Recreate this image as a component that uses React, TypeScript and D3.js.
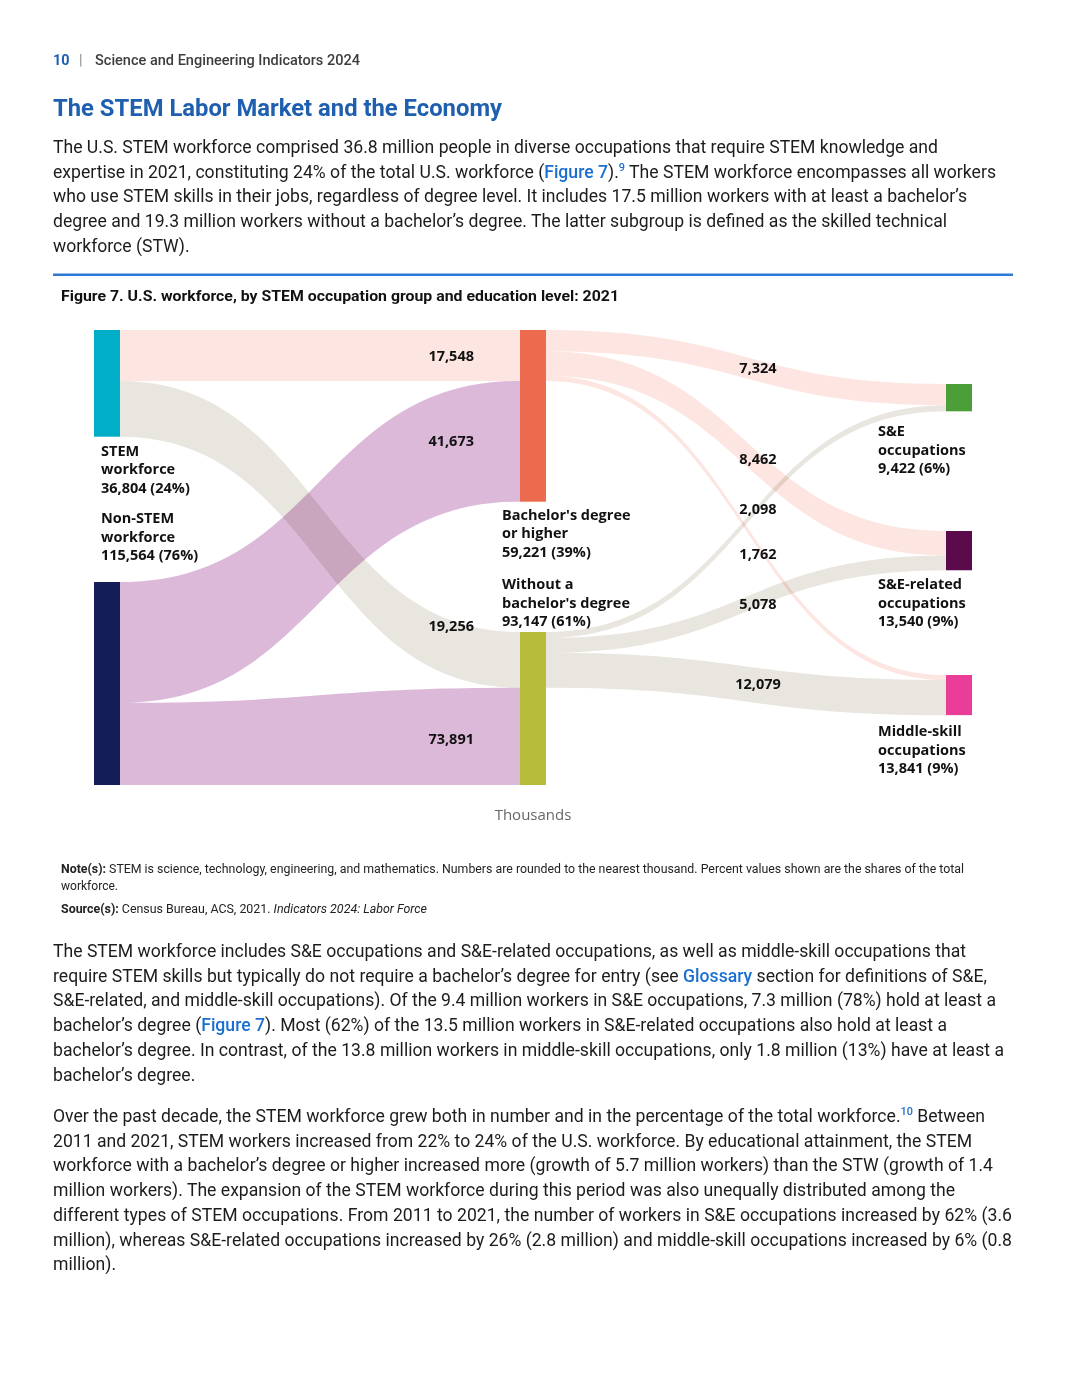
import React from "react";
import * as d3 from "d3";

// ---------------- DATA ----------------
const nodeNames = [
  "STEM workforce",
  "Non-STEM workforce",
  "Bachelor's degree or higher",
  "Without a bachelor's degree",
  "S&E occupations",
  "S&E-related occupations",
  "Middle-skill occupations",
];
const nodeLabelLines = [
  ["STEM", "workforce"],
  ["Non-STEM", "workforce"],
  ["Bachelor's degree", "or higher"],
  ["Without a", "bachelor's degree"],
  ["S&E", "occupations"],
  ["S&E-related", "occupations"],
  ["Middle-skill", "occupations"],
];
const nodeValues = [36804, 115564, 59221, 93147, 9422, 13540, 13841];
const nodeShares = ["24%", "76%", "39%", "61%", "6%", "9%", "9%"];
const nodeColumns = [0, 0, 1, 1, 2, 2, 2];

const linkSources = [0, 0, 1, 1, 2, 2, 2, 3, 3, 3];
const linkTargets = [2, 3, 2, 3, 4, 5, 6, 4, 5, 6];
const linkValues = [17548, 19256, 41673, 73891, 7324, 8462, 1762, 2098, 5078, 12079];

// ---------------- LAYOUT / STYLE ----------------
const W = 1080;
const H = 1397;
const CHART_BOTTOM = 785;
const NODE_W = 26;
const nodeTops = [330, 582, 330, 632, 384, 531, 675];
const nodeColors = ["#00aec7", "#131d58", "#ec6b4f", "#b7bd3b", "#4c9f38", "#5b0a4c", "#e93d98"];
const labelSpec = [
  { dx: 7, mode: "below", gap: 19 },
  { dx: 7, mode: "above", gap: 22 },
  { dx: -18, mode: "below", gap: 18 },
  { dx: -18, mode: "above", gap: 6 },
  { dx: -68, mode: "below", gap: 25 },
  { dx: -68, mode: "below", gap: 19 },
  { dx: -68, mode: "below", gap: 21 },
];
const linkLabelDy = [0, -34, 0, 2.5, 0, 6, 26, -12.7, 0, 0];
const LINE_H = 18.5;
const PINK = "#fde6e1";
const GRAY = "#e9e5df";
const LAV = "#dcb8d9";
const BLUE = "#1a6fcf";
const TEXT = "#1c1c1c";

const colX = d3.scaleLinear().domain([0, 2]).range([94, 946]);
const hScale = d3.scaleLinear().domain([0, 59221]).range([0, 171.7]);
const fmt = d3.format(",");

function linkColor(i: number) {
  const s = linkSources[i];
  const t = linkTargets[i];
  if (s === 1) return LAV;
  if (s === 2 || t === 2) return PINK;
  return GRAY;
}

function ribbon(x0: number, y0a: number, y0b: number, x1: number, y1a: number, y1b: number) {
  const xm = (x0 + x1) / 2;
  const p = d3.path();
  p.moveTo(x0, y0a);
  p.bezierCurveTo(xm, y0a, xm, y1a, x1, y1a);
  p.lineTo(x1, y1b);
  p.bezierCurveTo(xm, y1b, xm, y0b, x0, y0b);
  p.closePath();
  return p.toString();
}

// compute link geometry
const srcOffset = nodeValues.map(() => 0);
const tgtOffset = nodeValues.map(() => 0);
const links = linkValues.map((v, i) => {
  const s = linkSources[i];
  const t = linkTargets[i];
  const w = hScale(v);
  const y0 = nodeTops[s] + srcOffset[s];
  const y1 = nodeTops[t] + tgtOffset[t];
  srcOffset[s] += w;
  tgtOffset[t] += w;
  const x0 = colX(nodeColumns[s]) + NODE_W;
  const x1 = colX(nodeColumns[t]);
  return { i, v, s, t, w, x0, x1, y0, y1 };
});

// ---------------- BODY TEXT ----------------
type Seg = { t: string; k?: "link" | "sup" | "b" | "i" };
const para1: Seg[][] = [
  [{ t: "The U.S. STEM workforce comprised 36.8 million people in diverse occupations that require STEM knowledge and" }],
  [
    { t: "expertise in 2021, constituting 24% of the total U.S. workforce (" },
    { t: "Figure 7", k: "link" },
    { t: ")." },
    { t: "9", k: "sup" },
    { t: " The STEM workforce encompasses all workers" },
  ],
  [{ t: "who use STEM skills in their jobs, regardless of degree level. It includes 17.5 million workers with at least a bachelor\u2019s" }],
  [{ t: "degree and 19.3 million workers without a bachelor\u2019s degree. The latter subgroup is defined as the skilled technical" }],
  [{ t: "workforce (STW)." }],
];
const para1Ends = [938, 996, 967, 947, 0];
const para2: Seg[][] = [
  [{ t: "The STEM workforce includes S&E occupations and S&E-related occupations, as well as middle-skill occupations that" }],
  [
    { t: "require STEM skills but typically do not require a bachelor\u2019s degree for entry (see " },
    { t: "Glossary", k: "link" },
    { t: " section for definitions of S&E," },
  ],
  [{ t: "S&E-related, and middle-skill occupations). Of the 9.4 million workers in S&E occupations, 7.3 million (78%) hold at least a" }],
  [
    { t: "bachelor\u2019s degree (" },
    { t: "Figure 7", k: "link" },
    { t: "). Most (62%) of the 13.5 million workers in S&E-related occupations also hold at least a" },
  ],
  [{ t: "bachelor\u2019s degree. In contrast, of the 13.8 million workers in middle-skill occupations, only 1.8 million (13%) have at least a" }],
  [{ t: "bachelor\u2019s degree." }],
];
const para2Ends = [966, 987, 996, 947, 1004, 0];
const para3: Seg[][] = [
  [
    { t: "Over the past decade, the STEM workforce grew both in number and in the percentage of the total workforce." },
    { t: "10", k: "sup" },
    { t: " Between" },
  ],
  [{ t: "2011 and 2021, STEM workers increased from 22% to 24% of the U.S. workforce. By educational attainment, the STEM" }],
  [{ t: "workforce with a bachelor\u2019s degree or higher increased more (growth of 5.7 million workers) than the STW (growth of 1.4" }],
  [{ t: "million workers). The expansion of the STEM workforce during this period was also unequally distributed among the" }],
  [{ t: "different types of STEM occupations. From 2011 to 2021, the number of workers in S&E occupations increased by 62% (3.6" }],
  [{ t: "million), whereas S&E-related occupations increased by 26% (2.8 million) and middle-skill occupations increased by 6% (0.8" }],
  [{ t: "million)." }],
];
const para3Ends = [985, 972, 993, 955, 1012, 1012, 0];

const BODY_X = 53;
const BODY_LH = 24.7;

function renderSegs(segs: Seg[]) {
  return segs.map((s, j) => {
    if (s.k === "link")
      return (
        <tspan key={j} fill={BLUE} fontWeight={500}>
          {s.t}
        </tspan>
      );
    if (s.k === "sup")
      return (
        <tspan key={j} fill={BLUE} fontSize="0.62em" fontWeight={500} dy={-7}>
          {s.t}
        </tspan>
      );
    if (s.k === "b")
      return (
        <tspan key={j} fontWeight={700}>
          {s.t}
        </tspan>
      );
    if (s.k === "i")
      return (
        <tspan key={j} fontStyle="italic">
          {s.t}
        </tspan>
      );
    const prev = segs[j - 1];
    return (
      <tspan key={j} dy={prev && prev.k === "sup" ? 7 : undefined}>
        {s.t}
      </tspan>
    );
  });
}

function Paragraph({ lines, ends, y0 }: { lines: Seg[][]; ends: number[]; y0: number }) {
  return (
    <g fontFamily="Roboto, sans-serif" fontSize={17.6} fill={TEXT}>
      {lines.map((segs, i) => (
        <text
          key={i}
          x={BODY_X}
          y={y0 + i * BODY_LH}
          textLength={ends[i] ? ends[i] - BODY_X : undefined}
          lengthAdjust="spacing"
        >
          {renderSegs(segs)}
        </text>
      ))}
    </g>
  );
}

export default function App() {
  const visibleCenter = (y: number, w: number) => (y + Math.min(y + w, CHART_BOTTOM)) / 2;

  return (
    <svg
      width={W}
      height={H}
      viewBox={`0 0 ${W} ${H}`}
      style={{ position: "absolute", left: 0, top: 0, background: "#fff" }}
    >
      <rect x={0} y={0} width={W} height={H} fill="#fff" />

      {/* header */}
      <g fontFamily="Roboto, sans-serif" fontSize={14.4}>
        <text x={53} y={65} fill="#1d5fae" fontWeight={700}>
          10
        </text>
        <text x={79} y={65} fill="#8a8a8a">
          |
        </text>
        <text x={95} y={65} fill="#3d3d3d" fontWeight={500} textLength={265} lengthAdjust="spacingAndGlyphs">
          Science and Engineering Indicators 2024
        </text>
      </g>
      <text
        x={53}
        y={116}
        fontFamily="Roboto, sans-serif"
        fontSize={23.8}
        fontWeight={700}
        fill="#1f5fb0"
        textLength={449}
        lengthAdjust="spacingAndGlyphs"
      >
        The STEM Labor Market and the Economy
      </text>

      <Paragraph lines={para1} ends={para1Ends} y0={153} />

      <rect x={53} y={273.5} width={960} height={2.5} fill="#2b7ad3" />
      <text
        x={61}
        y={301}
        fontFamily="Roboto, sans-serif"
        fontSize={14.5}
        fontWeight={700}
        fill="#111"
        textLength={558}
        lengthAdjust="spacingAndGlyphs"
      >
        Figure 7. U.S. workforce, by STEM occupation group and education level: 2021
      </text>

      {/* sankey */}
      <defs>
        <clipPath id="chartClip">
          <rect x={0} y={0} width={W} height={CHART_BOTTOM} />
        </clipPath>
      </defs>
      <g clipPath="url(#chartClip)">
        <g style={{ isolation: "isolate" }}>
          {links.map((l) => (
            <path
              key={l.i}
              d={ribbon(l.x0, l.y0, l.y0 + l.w, l.x1, l.y1, l.y1 + l.w)}
              fill={linkColor(l.i)}
              style={{ mixBlendMode: "multiply" }}
            />
          ))}
        </g>
        {nodeValues.map((v, i) => (
          <rect
            key={i}
            x={colX(nodeColumns[i])}
            y={nodeTops[i]}
            width={NODE_W}
            height={hScale(v)}
            fill={nodeColors[i]}
          >
            <title>{nodeNames[i]}</title>
          </rect>
        ))}
      </g>

      <g fontFamily="'Open Sans', sans-serif" fontSize={14.5} fontWeight={700} fill="#111">
        {links.map((l) => {
          if (nodeColumns[l.s] === 0) {
            const y = visibleCenter(l.y1, l.w) + linkLabelDy[l.i];
            return (
              <text key={l.i} x={l.x1 - 46} y={y} dy="0.35em" textAnchor="end">
                {fmt(l.v)}
              </text>
            );
          }
          const y = (l.y0 + l.w / 2 + l.y1 + l.w / 2) / 2 + linkLabelDy[l.i];
          return (
            <text key={l.i} x={(l.x0 + l.x1) / 2 + 12} y={y} dy="0.35em" textAnchor="middle">
              {fmt(l.v)}
            </text>
          );
        })}
        {nodeValues.map((v, i) => {
          const spec = labelSpec[i];
          const lines = [...nodeLabelLines[i], `${fmt(v)} (${nodeShares[i]})`];
          const x = colX(nodeColumns[i]) + spec.dx;
          const first =
            spec.mode === "below"
              ? nodeTops[i] + hScale(v) + spec.gap
              : nodeTops[i] - spec.gap - (lines.length - 1) * LINE_H;
          return (
            <text key={i} x={x} y={first}>
              {lines.map((ln, j) => (
                <tspan key={j} x={x} y={first + j * LINE_H}>
                  {ln}
                </tspan>
              ))}
            </text>
          );
        })}
      </g>
      <text x={533} y={820} textAnchor="middle" fontFamily="'Open Sans', sans-serif" fontSize={15} fill="#666">
        Thousands
      </text>

      {/* notes */}
      <g fontFamily="Roboto, sans-serif" fontSize={12} fill="#222">
        <text x={61} y={873} textLength={903} lengthAdjust="spacingAndGlyphs">
          <tspan fontWeight={700}>Note(s):</tspan> STEM is science, technology, engineering, and mathematics. Numbers are
          rounded to the nearest thousand. Percent values shown are the shares of the total
        </text>
        <text x={61} y={890} textLength={57} lengthAdjust="spacingAndGlyphs">
          workforce.
        </text>
        <text x={61} y={913} textLength={366} lengthAdjust="spacingAndGlyphs">
          <tspan fontWeight={700}>Source(s):</tspan> Census Bureau, ACS, 2021.{" "}
          <tspan fontStyle="italic">Indicators 2024: Labor Force</tspan>
        </text>
      </g>

      <Paragraph lines={para2} ends={para2Ends} y0={957} />
      <Paragraph lines={para3} ends={para3Ends} y0={1122} />
    </svg>
  );
}
